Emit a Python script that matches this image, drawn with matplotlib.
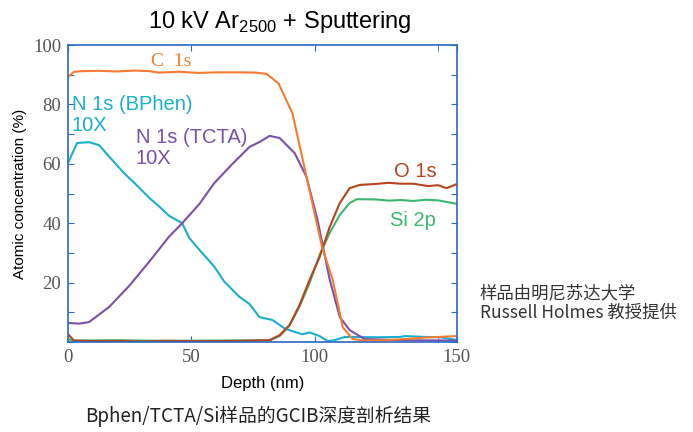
import numpy as np
import matplotlib
matplotlib.use('Agg')
import matplotlib.pyplot as plt
from matplotlib.ticker import FixedLocator

plt.rcParams['font.family'] = ['Liberation Sans', 'Noto Sans CJK SC', 'DejaVu Sans']

# depth (nm) / atomic concentration (%)
c1s_x = [0, 2.4, 6, 12.6, 20, 27, 33, 37, 45, 53, 60, 69.5, 76, 80.5, 85.4, 91, 97, 103, 107.3, 111.4, 115.4, 120, 128, 137, 145, 157.7]
c1s_y = [89.2, 91, 91.2, 91.3, 91.1, 91.4, 91.2, 90.7, 91.0, 90.6, 90.8, 90.8, 90.7, 90.3, 87, 77, 54.5, 32, 21, 5, 1, 0.5, 0.6, 1.0, 1.5, 2.0]

tcta_x = [0, 4.5, 8.5, 16.7, 24.8, 32.9, 41, 46.3, 53.3, 59.3, 66.7, 73.6, 78, 81.7, 85.8, 91.9, 96.7, 101.2, 106.1, 110.2, 114.2, 120.3, 135, 157.7]
tcta_y = [6.4, 6.2, 6.7, 11.8, 18.9, 27, 35.5, 40, 46.5, 53.5, 60, 65.7, 67.5, 69.4, 68.7, 63.6, 55.6, 41, 21, 8.4, 4, 1, 0.6, 0.5]

bphen_x = [0, 3.7, 8.5, 12.6, 16.7, 22.8, 27, 33, 37, 41, 46.3, 49.2, 53.3, 59.3, 63.4, 69.5, 73.6, 77.6, 82.9, 87.8, 91.9, 95.1, 98, 102, 105.3, 108, 112.2, 125, 134.6, 136.6, 145, 150.8, 157.7]
bphen_y = [60.3, 67, 67.3, 66.3, 62.4, 56.8, 53.5, 48.5, 45.6, 42.5, 40, 35, 31, 25.4, 20.3, 15.2, 12.8, 8.4, 7.4, 4.6, 3.4, 2.6, 3.2, 2, 0.3, 0.6, 1.7, 1.6, 1.7, 2.0, 1.7, 1.6, 0.7]

o1s_x = [0, 2.4, 10, 20, 30, 40, 50, 60, 70, 81.7, 85.8, 89.8, 93.9, 98, 102, 106.1, 110.2, 114.2, 118.3, 124.4, 130, 135, 140, 146, 150, 153.5, 157.7]
o1s_y = [2.7, 0.5, 0.3, 0.4, 0.2, 0.4, 0.3, 0.3, 0.4, 0.6, 2.3, 5.7, 12.5, 21, 28.6, 38.7, 46.8, 51.8, 52.9, 53.2, 53.6, 53.3, 53.3, 52.5, 52.8, 51.8, 53.2]

si2p_x = [0, 2.4, 20, 40, 60, 82, 85.8, 89.8, 93.9, 98, 102, 106.1, 110.2, 114.2, 117.1, 125, 130, 135, 140, 145, 150, 157.7]
si2p_y = [1.0, 0.5, 0.6, 0.4, 0.5, 0.6, 2, 5.5, 12, 20, 29.3, 36.7, 42.8, 46.8, 48.1, 48, 47.6, 47.8, 47.5, 47.9, 47.7, 46.5]

x_max = 157.7
xtick_pos = [0, 50, 100, x_max]
xtick_lab = ['0', '50', '100', '150']

c_orange = '#f47b30'
c_cyan = '#1aaecf'
c_purple = '#7a50a8'
c_red = '#b8431c'
c_green = '#3cb86e'
c_axis = '#2a6ac0'

fig = plt.figure(figsize=(6.93, 4.32), dpi=100)
ax = fig.add_axes([0.0981, 0.2083, 0.5613, 0.6875])

lw = 1.5
ax.plot(si2p_x, si2p_y, color=c_green, lw=lw)
ax.plot(bphen_x, bphen_y, color=c_cyan, lw=lw)
ax.plot(tcta_x, tcta_y, color=c_purple, lw=lw)
ax.plot(o1s_x, o1s_y, color=c_red, lw=lw)
ax.plot(c1s_x, c1s_y, color=c_orange, lw=lw)

ax.set_xlim(0, x_max)
ax.set_ylim(0, 100)

for s in ax.spines.values():
    s.set_color(c_axis)
    s.set_linewidth(1.2)

ax.set_xticks(xtick_pos)
ax.set_xticklabels(xtick_lab)
ax.xaxis.set_minor_locator(FixedLocator([150]))
ax.set_yticks(np.arange(0, 101, 10))
ax.set_yticklabels(['' if (v == 0 or v % 20) else str(v) for v in range(0, 101, 10)])
ax.tick_params(which='both', direction='in', length=4, color=c_axis,
               top=True, right=True, labelcolor='#555555', labelsize=13.5, pad=5)
for lab in ax.get_xticklabels() + ax.get_yticklabels():
    lab.set_family('Liberation Serif')

ax.set_xlabel('Depth (nm)', fontsize=12, labelpad=7)
ax.set_ylabel('Atomic concentration (%)', fontsize=11, labelpad=4)

ax.text(41.9, 94.5, 'C  1s', color=c_orange, fontsize=14, family='Liberation Serif', ha='center', va='center')
ax.text(1.5, 76.5, 'N 1s (BPhen)\n10X', color=c_cyan, fontsize=14.5, ha='left', va='center', linespacing=1.15)
ax.text(27.5, 65.3, 'N 1s (TCTA)\n10X', color=c_purple, fontsize=14.5, ha='left', va='center', linespacing=1.15)
ax.text(140.7, 57.5, 'O 1s', color=c_red, fontsize=14.5, ha='center', va='center')
ax.text(140, 41, 'Si 2p', color=c_green, fontsize=14.5, ha='center', va='center')

fig.text(0.403, 0.948, r'10 kV Ar$_{\mathregular{2500}}$ + Sputtering', fontsize=17, ha='center', va='center')

fig.text(0.692, 0.298, '样品由明尼苏达大学\nRussell Holmes 教授提供', fontsize=12.5,
         family=['Noto Sans CJK SC', 'DejaVu Sans'], color='#333333', ha='left', va='center', linespacing=1.1)
fig.text(0.372, 0.037, 'Bphen/TCTA/Si样品的GCIB深度剖析结果', fontsize=13.5,
         family=['Noto Sans CJK SC', 'DejaVu Sans'], color='#222222', ha='center', va='center')

fig.savefig('out.png', dpi=100)
